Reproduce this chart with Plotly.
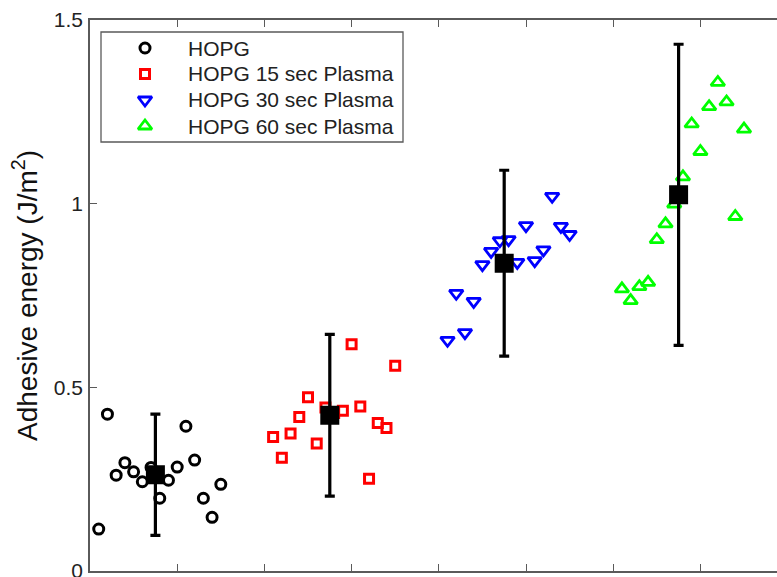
import plotly.graph_objects as go

# ---- data ----
hopg_x = [0.1, 0.2, 0.3, 0.4, 0.5, 0.6, 0.7, 0.8, 0.9, 1.0, 1.1, 1.2, 1.3, 1.4, 1.5]
hopg_y = [0.114, 0.427, 0.261, 0.295, 0.270, 0.243, 0.282, 0.198, 0.247, 0.283, 0.394, 0.302, 0.198, 0.146, 0.236]

p15_x = [2.1, 2.2, 2.3, 2.4, 2.5, 2.6, 2.7, 2.8, 2.9, 3.0, 3.1, 3.2, 3.3, 3.4, 3.5]
p15_y = [0.365, 0.308, 0.374, 0.419, 0.473, 0.347, 0.445, 0.43, 0.436, 0.617, 0.448, 0.251, 0.403, 0.389, 0.559]

p30_x = [4.1, 4.2, 4.3, 4.4, 4.5, 4.6, 4.7, 4.8, 4.9, 5.0, 5.1, 5.2, 5.3, 5.4, 5.5]
p30_y = [0.628, 0.756, 0.649, 0.734, 0.834, 0.870, 0.899, 0.902, 0.840, 0.940, 0.845, 0.874, 1.020, 0.938, 0.916]

p60_x = [6.1, 6.2, 6.3, 6.4, 6.5, 6.6, 6.7, 6.8, 6.9, 7.0, 7.1, 7.2, 7.3, 7.4, 7.5]
p60_y = [0.768, 0.736, 0.774, 0.786, 0.902, 0.945, 0.999, 1.073, 1.217, 1.142, 1.264, 1.330, 1.277, 0.965, 1.203]

mean_x = [0.75, 2.75, 4.75, 6.75]
mean_y = [0.262, 0.424, 0.838, 1.024]
mean_err = [0.165, 0.220, 0.253, 0.410]

series_names = ["HOPG", "HOPG 15 sec Plasma", "HOPG 30 sec Plasma", "HOPG 60 sec Plasma"]
y_ticks = [0, 0.5, 1, 1.5]
y_tick_text = ["0", "0.5", "1", "1.5"]
x_ticks = [1, 2, 3, 4, 5, 6, 7]

FONT = "Liberation Sans, Arial, sans-serif"
TXT = "#222222"
AX = "#5a5a5a"

# plot-area geometry (pixels)
W, H = 777, 577
L, T, B = 90, 20, 571
TICK_PX = 87.2

def px_to_paper_x(px):
    return (px - L) / (W - L)

def px_to_paper_y(py):
    return (B - py) / (B - T)

fig = go.Figure()

styles = [
    ("circle-open", "#000000", 10, 3),
    ("square-open", "#ff0000", 9, 3),
    ("triangle-down-open", "#0000ff", 12, 2.8),
    ("triangle-up-open", "#00ff00", 12, 2.8),
]
series = [(hopg_x, hopg_y), (p15_x, p15_y), (p30_x, p30_y), (p60_x, p60_y)]

for (xs, ys), (sym, col, sz, lw), name in zip(series, styles, series_names):
    fig.add_trace(go.Scatter(
        x=xs, y=ys, mode="markers", name=name, showlegend=False,
        marker=dict(symbol=sym, size=sz, color=col, line=dict(color=col, width=lw)),
    ))

fig.add_trace(go.Scatter(
    x=mean_x, y=mean_y, mode="markers", showlegend=False,
    marker=dict(symbol="square", size=17, color="#000000", line=dict(color="#000000", width=2)),
    error_y=dict(type="data", array=mean_err, visible=True, color="#000000", thickness=3.2, width=5),
))

# ---- hand-built legend (box, symbols, labels) ----
LEG_L, LEG_R, LEG_T, LEG_B = 101, 403, 32, 142
ROW0, ROW_H = 48, 26
SYM_X, TEXT_X = 145, 186
rows_y = [ROW0 + i * ROW_H for i in range(len(series_names))]

fig.add_shape(type="rect", xref="paper", yref="paper",
              x0=px_to_paper_x(LEG_L), x1=px_to_paper_x(LEG_R),
              y0=px_to_paper_y(LEG_B), y1=px_to_paper_y(LEG_T),
              line=dict(color=AX, width=1.3), fillcolor="white", layer="below")

for i, ((sym, col, sz, lw), name) in enumerate(zip(styles, series_names)):
    fig.add_trace(go.Scatter(
        x=[SYM_X], y=[rows_y[i]], xaxis="x2", yaxis="y2", mode="markers",
        showlegend=False, hoverinfo="skip", cliponaxis=False,
        marker=dict(symbol=sym, size=sz, color=col, line=dict(color=col, width=lw)),
    ))
    fig.add_annotation(text=name, xref="paper", yref="paper",
                       x=px_to_paper_x(TEXT_X), y=px_to_paper_y(rows_y[i]),
                       xanchor="left", yanchor="middle", showarrow=False,
                       font=dict(family=FONT, size=21, color=TXT))

fig.update_layout(
    width=W, height=H,
    margin=dict(l=L, r=0, t=T, b=H - B, autoexpand=False),
    paper_bgcolor="white", plot_bgcolor="white",
    font=dict(family=FONT, size=21, color=TXT),
    showlegend=False,
    xaxis=dict(
        range=[0, (W - L) / TICK_PX], tickvals=x_ticks, showticklabels=False,
        ticks="inside", ticklen=7, tickcolor=AX, tickwidth=1.3,
        showline=True, linecolor=AX, linewidth=1.5, mirror="ticks",
        showgrid=False, zeroline=False, automargin=False,
    ),
    yaxis=dict(
        range=[0, 1.5], tickvals=y_ticks, ticktext=y_tick_text,
        ticks="inside", ticklen=7, tickcolor=AX, tickwidth=1.3,
        showline=True, linecolor=AX, linewidth=1.5, mirror=False,
        showgrid=False, zeroline=False, ticklabelstandoff=1,
        ticklabeloverflow="allow", automargin=False,
        tickfont=dict(family=FONT, size=21, color=TXT),
        title=dict(text="Adhesive energy (J/m<sup>2</sup>)", standoff=8,
                   font=dict(family=FONT, size=28, color="#111111")),
    ),
    xaxis2=dict(overlaying="x", range=[L, W], visible=False),
    yaxis2=dict(overlaying="y", range=[B, T], visible=False),
)

fig.write_html("out.html")
